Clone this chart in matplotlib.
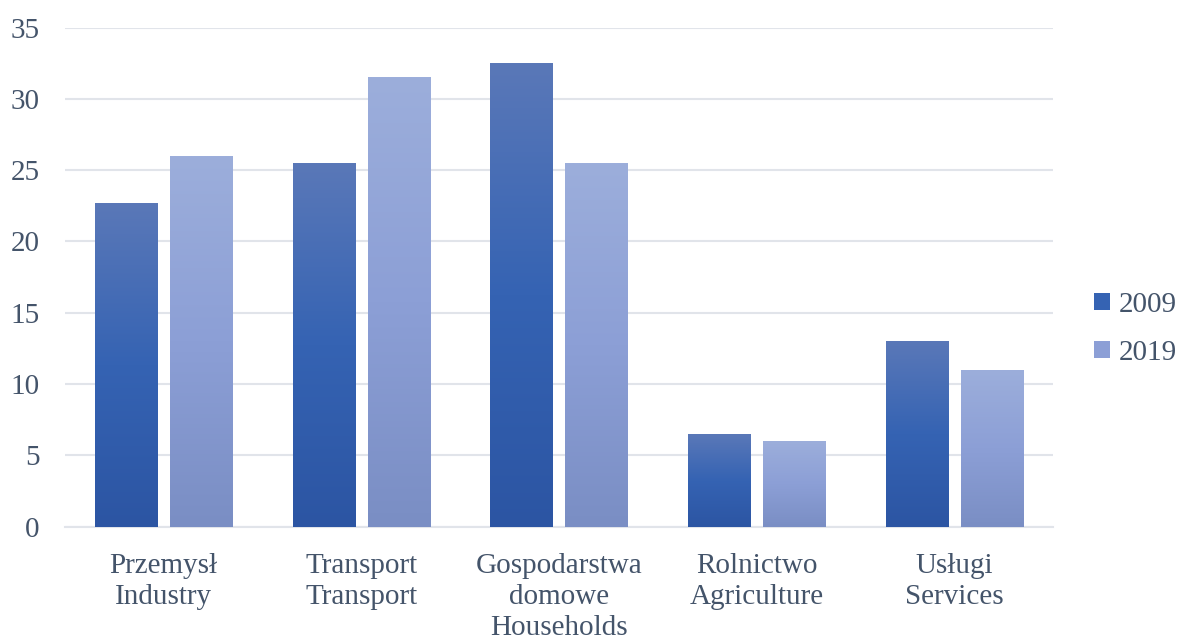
import matplotlib.pyplot as plt
import numpy as np
from matplotlib.colors import LinearSegmentedColormap
from matplotlib.patches import Patch

plt.rcParams['font.family'] = ['Liberation Serif', 'DejaVu Serif']

# Dane
kategorie = ['Przemysł\nIndustry', 'Transport\nTransport', 'Gospodarstwa\ndomowe\nHouseholds',
             'Rolnictwo\nAgriculture', 'Usługi\nServices']
lata = ['2009', '2019']
wartosci_2009 = [22.7, 25.5, 32.5, 6.5, 13.0]
wartosci_2019 = [26.0, 31.5, 25.5, 6.0, 11.0]

# gradienty (dół -> środek -> góra)
grad_2009 = LinearSegmentedColormap.from_list('g09', ['#2c55a3', '#3563b3', '#5a78b8'])
grad_2019 = LinearSegmentedColormap.from_list('g19', ['#7a8ec4', '#8c9fd6', '#9caedb'])
text_col = '#44546a'
grid_col = '#e1e4ea'
fs = 21

fig = plt.figure(figsize=(11.78, 6.4), dpi=100)
ax = fig.add_axes([0.055, 0.177, 0.839, 0.78])

x = np.arange(len(kategorie))
w = 0.315
off = 0.19

def gradient_bars(xpos, vals, cmap):
    bars = ax.bar(xpos, vals, width=w, color='none', edgecolor='none', zorder=3)
    grad = np.linspace(0, 1, 256).reshape(-1, 1)
    for b in bars:
        x0, y0 = b.get_x(), b.get_y()
        x1, y1 = x0 + b.get_width(), y0 + b.get_height()
        im = ax.imshow(grad, cmap=cmap, origin='lower', aspect='auto',
                       extent=[x0, x1, y0, y1], zorder=3)
        im.set_clip_path(b)
    return bars

gradient_bars(x - off, wartosci_2009, grad_2009)
gradient_bars(x + off, wartosci_2019, grad_2019)

ax.set_xlim(-0.5, len(kategorie) - 0.5)
ax.set_ylim(0, 35)
ax.set_yticks(range(0, 36, 5))
ax.set_xticks(x)
ax.set_xticklabels(kategorie, fontsize=fs, color=text_col, linespacing=1.25)
ax.tick_params(axis='y', labelsize=fs, labelcolor=text_col, length=0, pad=18)
ax.tick_params(axis='x', length=0, pad=19)

ax.grid(axis='y', color=grid_col, linewidth=1.5, zorder=0)
ax.set_axisbelow(True)
for s in ['top', 'right', 'left']:
    ax.spines[s].set_visible(False)
ax.spines['bottom'].set_color(grid_col)
ax.spines['bottom'].set_linewidth(1.5)

uchwyty = [Patch(facecolor='#3563b3'), Patch(facecolor='#8c9fd6')]
fig.legend(uchwyty, lata, loc='center left', bbox_to_anchor=(0.929, 0.486), frameon=False,
           fontsize=fs, labelcolor=text_col, handlelength=0.55, handleheight=0.55,
           handletextpad=0.3, labelspacing=0.75, borderaxespad=0, borderpad=0)

plt.savefig('out.png', dpi=100)
